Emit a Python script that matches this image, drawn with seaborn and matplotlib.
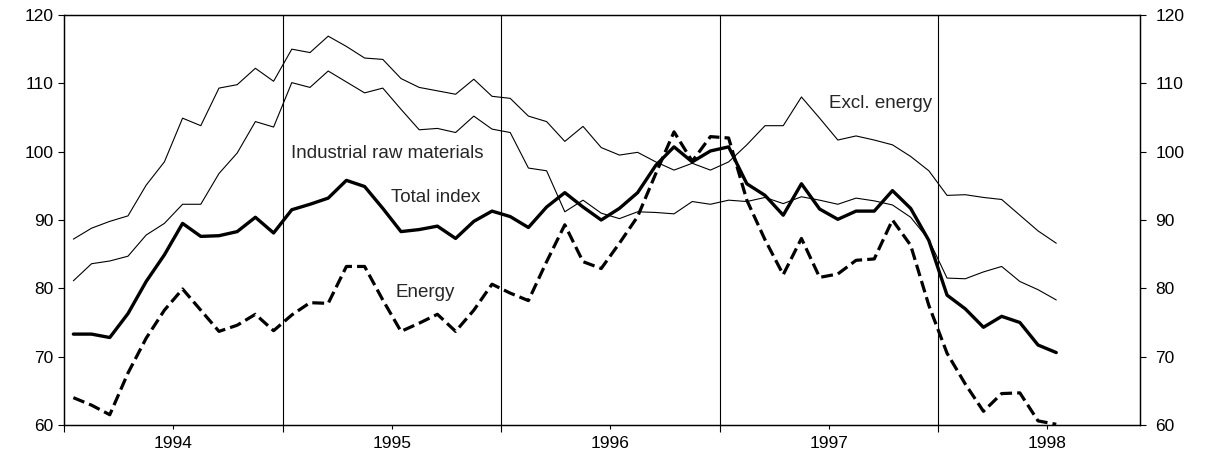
import numpy as np
import pandas as pd
import seaborn as sns
import matplotlib.pyplot as plt
from matplotlib.ticker import FixedLocator, NullFormatter

# monthly values, Jan 1994 .. Jul 1998
excl_energy = [87.2, 88.8, 89.8, 90.6, 95.1, 98.5, 104.9, 103.8, 109.3, 109.8, 112.2, 110.3,
               115.0, 114.5, 116.9, 115.4, 113.7, 113.5, 110.7, 109.4, 108.9, 108.4, 110.6, 108.1,
               107.8, 105.2, 104.4, 101.5, 103.7, 100.6, 99.5, 99.9, 98.5, 97.3, 98.3, 97.3,
               98.5, 101.0, 103.8, 103.8, 108.0, 104.9, 101.7, 102.3, 101.7, 101.0, 99.3, 97.2,
               93.6, 93.7, 93.3, 93.0, 90.7, 88.4, 86.6]
industrial = [81.1, 83.6, 84.0, 84.7, 87.8, 89.5, 92.3, 92.3, 96.8, 99.8, 104.4, 103.6,
              110.1, 109.4, 111.8, 110.2, 108.6, 109.3, 106.2, 103.2, 103.4, 102.8, 105.2, 103.3,
              102.8, 97.6, 97.2, 91.2, 92.9, 91.0, 90.2, 91.2, 91.1, 90.9, 92.7, 92.3,
              92.9, 92.7, 93.3, 92.4, 93.4, 92.9, 92.3, 93.2, 92.8, 92.2, 90.4, 87.1,
              81.5, 81.4, 82.4, 83.2, 81.0, 79.8, 78.3]
total_index = [73.3, 73.3, 72.8, 76.3, 81.0, 84.9, 89.5, 87.6, 87.7, 88.3, 90.4, 88.1,
               91.5, 92.3, 93.2, 95.8, 94.9, 91.7, 88.3, 88.6, 89.1, 87.3, 89.8, 91.3,
               90.5, 88.9, 91.9, 94.0, 91.9, 90.0, 91.7, 94.0, 98.0, 100.7, 98.5, 100.1,
               100.7, 95.3, 93.6, 90.7, 95.3, 91.6, 90.1, 91.3, 91.3, 94.3, 91.7, 87.0,
               79.0, 77.0, 74.3, 75.9, 75.0, 71.7, 70.6]
energy = [64.0, 62.9, 61.5, 67.6, 72.7, 76.8, 79.9, 76.8, 73.7, 74.6, 76.2, 73.8,
          76.1, 77.9, 77.8, 83.2, 83.2, 78.3, 73.7, 74.9, 76.2, 73.7, 76.8, 80.6,
          79.3, 78.2, 83.9, 89.3, 83.9, 82.9, 86.6, 90.5, 96.8, 102.9, 98.6, 102.2,
          102.0, 92.9, 87.1, 82.0, 87.3, 81.6, 82.1, 84.1, 84.3, 90.0, 86.3, 77.5,
          70.5, 66.0, 62.0, 64.6, 64.7, 60.6, 60.1]
years = ["1994", "1995", "1996", "1997", "1998"]

df = pd.DataFrame({
    "month": np.arange(len(total_index)) + 0.5,
    "excl": excl_energy,
    "ind": industrial,
    "total": total_index,
    "energy": energy,
})

sns.set_theme(style="white")
plt.rcParams['font.family'] = ['Liberation Sans', 'DejaVu Sans']

fig = plt.figure(figsize=(12.08, 4.61), dpi=100)
ax = fig.add_axes([0.0532, 0.0781, 0.8905, 0.8894])

sns.lineplot(data=df, x="month", y="excl", ax=ax, color="black", lw=0.8)
sns.lineplot(data=df, x="month", y="ind", ax=ax, color="black", lw=0.8)
sns.lineplot(data=df, x="month", y="total", ax=ax, color="black", lw=2.4)
sns.lineplot(data=df, x="month", y="energy", ax=ax, color="black", lw=2.3,
             dashes=(2.4, 2.6), linestyle="--")

for b in [12, 24, 36, 48]:
    ax.axvline(b, color="black", lw=0.8)

ax.set_xlim(0, 59.1)
ax.set_ylim(60, 120)
ax.set_xlabel("")
ax.set_ylabel("")

ax.xaxis.set_major_locator(FixedLocator([0, 12, 24, 36, 48]))
ax.xaxis.set_major_formatter(NullFormatter())
ax.xaxis.set_minor_locator(FixedLocator([6, 18, 30, 42, 54]))
ax.set_xticklabels(years, minor=True)
ax.tick_params(axis="x", which="major", direction="out", length=5, width=0.8, color="black", bottom=True)
ax.tick_params(axis="x", which="minor", direction="out", length=3, width=0.8, color="black",
               bottom=True, labelsize=12.5, pad=5, labelcolor="black")

ax.set_yticks(range(60, 121, 10))
ax.tick_params(axis="y", direction="out", length=4, width=0.8, color="black", left=True,
               labelsize=12.5, labelcolor="black", pad=4)
ax2 = ax.twinx()
ax2.set_ylim(60, 120)
ax2.set_yticks(range(60, 121, 10))
ax2.tick_params(axis="y", direction="out", length=4, width=0.8, color="black", right=True,
                labelsize=12.5, labelcolor="black", pad=7)

for a in (ax, ax2):
    for s in a.spines.values():
        s.set_color("black")
        s.set_linewidth(0.9)

ax.text(12.45, 99.8, "Industrial raw materials", fontsize=13.5, va="center", ha="left")
ax.text(17.95, 93.3, "Total index", fontsize=13.5, va="center", ha="left")
ax.text(18.2, 79.4, "Energy", fontsize=13.5, va="center", ha="left")
ax.text(42.0, 107.1, "Excl. energy", fontsize=13.5, va="center", ha="left")

fig.savefig("out.png", dpi=100)
